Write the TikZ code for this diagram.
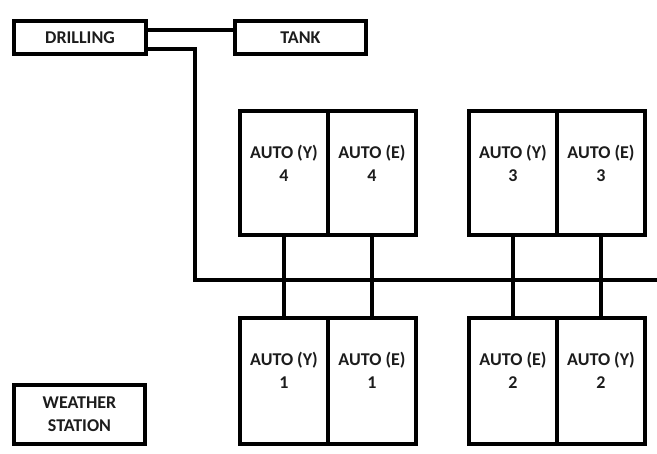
\documentclass[tikz,border=0pt]{standalone}
\usepackage{fontspec}
\setmainfont{Carlito}
\definecolor{ink}{HTML}{1C1C1C}

\begin{document}
\begin{tikzpicture}[x=1pt,y=-1pt,
  box/.style={draw,line width=4.5pt,inner sep=0pt,align=center,text=ink,
    font=\fontsize{18}{23}\selectfont\bfseries},
  half/.style={box,minimum width=88},
  lbl/.style={inner sep=0pt,align=center,text=ink,font=\fontsize{18}{23}\selectfont\bfseries},
  wire/.style={line width=3.4pt}]
\useasboundingbox (0,0) rectangle (657,454);
% Top row
\node[box,minimum width=132,minimum height=33] (drill) at (80,37.5) {DRILLING};
\node[box,minimum width=131,minimum height=33] (tank) at (300.5,37.5) {TANK};
\node[box,minimum width=131,minimum height=59] (weather) at (79.5,414.5) {WEATHER\\STATION};
% Upper and lower cabinets
\foreach \n/\x/\t in {y4/284/AUTO (Y)\\4, e4/372/AUTO (E)\\4, y3/513/AUTO (Y)\\3, e3/601/AUTO (E)\\3} {
  \node[half,minimum height=124] (\n) at (\x,173) {};
  \node[lbl] (\n-t) at ([yshift=10pt]\n.center) {\t};
}
\foreach \n/\x/\t in {y1/284/AUTO (Y)\\1, e1/372/AUTO (E)\\1, e2/513/AUTO (E)\\2, y2/601/AUTO (Y)\\2} {
  \node[half,minimum height=126] (\n) at (\x,381) {};
  \node[lbl] (\n-t) at ([yshift=11pt]\n.center) {\t};
}
% Bus lines
\coordinate (corner) at (195,280);
\coordinate (busend) at (657,280);
\draw[wire] (drill.east |- 0,30) -- (tank.west |- 0,30);
\draw[wire] (drill.east |- 0,49) -| (corner) -- (busend);
\foreach \a/\b in {y4/y1, e4/e1, y3/e2, e3/y2}
  \draw[wire] (\a.south) -- (\b.north);
\end{tikzpicture}
\end{document}
